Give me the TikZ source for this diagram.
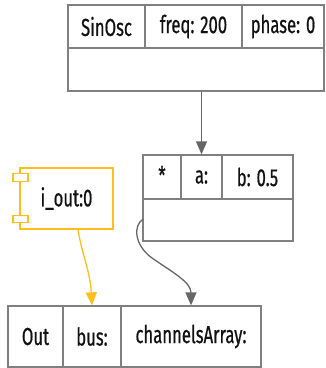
\documentclass[tikz,border=0pt]{standalone}
\usepackage{fontspec}
\setmainfont{Fira Sans}[FakeStretch=0.68, FakeBold=0.6]
\usetikzlibrary{arrows.meta}
\definecolor{bordergray}{HTML}{808080}
\definecolor{arrowgray}{HTML}{666666}
\definecolor{compyellow}{HTML}{FFBE1A}
\definecolor{txt}{HTML}{111111}
\tikzset{
  lbl/.style={text=txt, font=\fontsize{24.5}{28}\selectfont},
  cell/.style={draw=bordergray, line width=1.3pt, fill=white, inner sep=0pt, lbl},
  comp/.style={draw=compyellow, line width=1.3pt, fill=white, inner sep=0pt, lbl},
  gtip/.style={-{Triangle[length=13pt,width=11pt]}, draw=arrowgray, line width=1.3pt},
  ytip/.style={-{Triangle[length=13pt,width=11pt]}, draw=compyellow, line width=1.3pt},
}
\begin{document}
\begin{tikzpicture}[x=1pt,y=-1pt]
\useasboundingbox (0,0) rectangle (326,368);
% SinOsc
\node[cell, minimum width=77pt, minimum height=43pt] (sin1) at (106.5,26.5) {SinOsc};
\node[cell, minimum width=97pt, minimum height=43pt] (sin2) at (193.5,26.5) {freq: 200};
\node[cell, minimum width=82pt, minimum height=43pt] (sin3) at (283,26.5) {phase: 0};
\node[cell, minimum width=256pt, minimum height=43pt] (sinb) at (196,69.5) {};
% Mul
\node[cell, minimum width=38pt, minimum height=44pt] (mul1) at (162,177) {};
\node[lbl] (star) at (162,175) {*};
\node[cell, minimum width=41pt, minimum height=44pt] (mul2) at (201.5,177) {a:};
\node[cell, minimum width=71pt, minimum height=44pt] (mul3) at (257.5,177) {b: 0.5};
\node[cell, minimum width=150pt, minimum height=42pt] (mulb) at (218,220) {};
% i_out component
\node[comp, minimum width=93pt, minimum height=61pt] (iout) at (66.5,198.5) {i\_out:0};
\node[comp, minimum width=15pt, minimum height=8pt] (port1) at (20.5,177.5) {};
\node[comp, minimum width=15pt, minimum height=7pt] (port2) at (20.5,219) {};
% Out
\node[cell, minimum width=55pt, minimum height=61pt] (out1) at (35.5,336.5) {Out};
\node[cell, minimum width=58pt, minimum height=61pt] (out2) at (92,336.5) {bus:};
\node[cell, minimum width=140pt, minimum height=61pt] (out3) at (191,336.5) {channelsArray:};
% connectors
\coordinate (mstart) at ([xshift=1pt,yshift=1pt]mulb.west);
\draw[gtip] (sinb.south -| mul2.north) -- (mul2.north);
\draw[ytip] ([xshift=11.5pt]iout.south) .. controls (82,255) and (90,270) .. (out2.north);
\draw[gtip] (mstart) .. controls (133,225) and (134,245) .. (152,258) .. controls (172,272) and (191,282) .. (out3.north);
\end{tikzpicture}
\end{document}
